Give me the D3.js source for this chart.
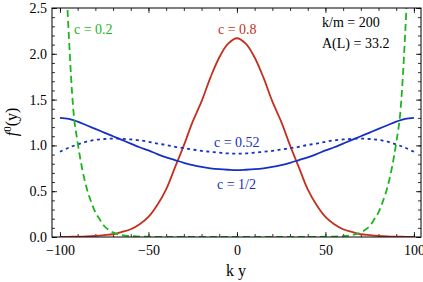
<!DOCTYPE html>
<html>
<head>
<meta charset="utf-8">
<script src="https://cdn.jsdelivr.net/npm/d3@7"></script>
<style>
    body { margin: 0; background: #fff; }
</style>
</head>
<body>
<div id="chart"></div>
<script>
const serif = "Liberation Serif, DejaVu Serif, serif";

// grid for the smooth curves (k y)
const kyGrid = [-100, -95, -90, -85, -80, -75, -70, -65, -60, -55, -50, -45, -40, -35, -30, -25, -20, -15, -10, -5,
    0, 5, 10, 15, 20, 25, 30, 35, 40, 45, 50, 55, 60, 65, 70, 75, 80, 85, 90, 95, 100];

// c = 0.8 (red)
const red08 = [0.001, 0.002, 0.004, 0.007, 0.012, 0.02, 0.03, 0.055, 0.085, 0.14, 0.22, 0.35, 0.52, 0.76, 1.00, 1.26, 1.48, 1.74, 1.96, 2.11,
    2.17, 2.11, 1.96, 1.74, 1.48, 1.26, 1.00, 0.76, 0.52, 0.35, 0.22, 0.14, 0.085, 0.055, 0.03, 0.02, 0.012, 0.007, 0.004, 0.002, 0.001];

// c = 1/2 (blue solid)
const blueHalf = [1.30, 1.29, 1.26, 1.22, 1.18, 1.14, 1.10, 1.06, 1.02, 0.98, 0.945, 0.905, 0.87, 0.84, 0.81, 0.785, 0.765, 0.75, 0.74, 0.734,
    0.73, 0.734, 0.74, 0.75, 0.765, 0.785, 0.81, 0.84, 0.87, 0.905, 0.945, 0.98, 1.02, 1.06, 1.10, 1.14, 1.18, 1.22, 1.26, 1.29, 1.30];

// c = 0.52 (blue dotted)
const blue052 = [0.93, 0.975, 1.01, 1.04, 1.06, 1.07, 1.075, 1.072, 1.065, 1.055, 1.04, 1.02, 1.005, 0.985, 0.97, 0.955, 0.94, 0.93, 0.92, 0.912,
    0.91, 0.912, 0.92, 0.93, 0.94, 0.955, 0.97, 0.985, 1.005, 1.02, 1.04, 1.055, 1.065, 1.072, 1.075, 1.07, 1.06, 1.04, 1.01, 0.975, 0.93];

// c = 0.2 (green dashed), finer near the walls
const kyGreen = [-100, -97.5, -95, -92.5, -90, -87.5, -85, -82.5, -80, -77.5, -75, -72.5, -70, -65, -60, -50, -25,
    0, 25, 50, 60, 65, 70, 72.5, 75, 77.5, 80, 82.5, 85, 87.5, 90, 92.5, 95, 97.5, 100];
const green02 = [5.0, 3.3, 2.2, 1.4, 1.03, 0.75, 0.54, 0.39, 0.27, 0.19, 0.12, 0.08, 0.05, 0.02, 0.01, 0.003, 0,
    0, 0, 0.003, 0.01, 0.02, 0.05, 0.08, 0.12, 0.19, 0.27, 0.39, 0.54, 0.75, 1.03, 1.4, 2.2, 3.3, 5.0];

const xMajor = [-100, -50, 0, 50, 100];
const xMinor = d3.range(-100, 101, 10);
const yMajor = [0, 0.5, 1.0, 1.5, 2.0, 2.5];
const yMinor = d3.range(0, 2.51, 0.1);

const width = 423, height = 282;
const margin = {top: 8, right: 2, bottom: 45, left: 52};
const innerW = width - margin.left - margin.right;
const innerH = height - margin.top - margin.bottom;

const svg = d3.select("#chart").append("svg")
    .attr("width", width)
    .attr("height", height)
    .style("font-family", serif);

const g = svg.append("g")
    .attr("transform", `translate(${margin.left},${margin.top})`);

const x = d3.scaleLinear().domain([-104.5, 104]).range([0, innerW]);
const y = d3.scaleLinear().domain([0, 2.5]).range([innerH, 0]);

g.append("clipPath").attr("id", "plotClip")
    .append("rect").attr("width", innerW).attr("height", innerH);

// axes, ticks pointing inward
function styleAxis(sel) {
    sel.attr("font-family", null);
    sel.select(".domain").remove();
    sel.selectAll("line").attr("stroke", "#000").attr("stroke-width", 0.8);
    sel.selectAll("text").attr("font-size", 14).attr("fill", "#000").style("font-family", serif);
}

g.append("g").attr("transform", `translate(0,${innerH})`)
    .call(d3.axisBottom(x).tickValues(xMinor).tickSize(-3).tickFormat(""))
    .call(styleAxis);
g.append("g").attr("transform", `translate(0,${innerH})`)
    .call(d3.axisBottom(x).tickValues(xMajor).tickSize(-5).tickPadding(8).tickFormat(d3.format("d")))
    .call(styleAxis);
g.append("g")
    .call(d3.axisTop(x).tickValues(xMinor).tickSize(-3).tickFormat(""))
    .call(styleAxis);
g.append("g")
    .call(d3.axisTop(x).tickValues(xMajor).tickSize(-5).tickFormat(""))
    .call(styleAxis);

g.append("g")
    .call(d3.axisLeft(y).tickValues(yMinor).tickSize(-3).tickFormat(""))
    .call(styleAxis);
g.append("g")
    .call(d3.axisLeft(y).tickValues(yMajor).tickSize(-5).tickPadding(5).tickFormat(d3.format(".1f")))
    .call(styleAxis);
g.append("g").attr("transform", `translate(${innerW},0)`)
    .call(d3.axisRight(y).tickValues(yMinor).tickSize(-3).tickFormat(""))
    .call(styleAxis);
g.append("g").attr("transform", `translate(${innerW},0)`)
    .call(d3.axisRight(y).tickValues(yMajor).tickSize(-5).tickFormat(""))
    .call(styleAxis);

// curves
const smooth = d3.line()
    .x(d => x(d[0]))
    .y(d => y(d[1]))
    .curve(d3.curveCatmullRom.alpha(0.5));
const steep = d3.line()
    .x(d => x(d[0]))
    .y(d => y(d[1]))
    .curve(d3.curveMonotoneX);

const curves = [
    {ky: kyGrid, v: red08, color: "#c3301f", dash: null, gen: smooth},
    {ky: kyGrid, v: blueHalf, color: "#1530c4", dash: null, gen: smooth},
    {ky: kyGrid, v: blue052, color: "#1530c4", dash: "3,3.5", gen: smooth},
    {ky: kyGreen, v: green02, color: "#1db41d", dash: "7,4", gen: steep}
];

const plot = g.append("g").attr("clip-path", "url(#plotClip)");
curves.forEach(c => {
    plot.append("path")
        .datum(c.ky.map((k, i) => [k, c.v[i]]))
        .attr("fill", "none")
        .attr("stroke", c.color)
        .attr("stroke-width", 1.8)
        .attr("stroke-dasharray", c.dash)
        .attr("d", c.gen);
});

// frame
g.append("rect")
    .attr("width", innerW).attr("height", innerH)
    .attr("fill", "none").attr("stroke", "#000").attr("stroke-width", 1);

// labels in the plot
const labels = [
    {t: "c = 0.2", x: 74, y: 33.5, color: "#1db41d"},
    {t: "c = 0.8", x: 218, y: 33.5, color: "#c3301f"},
    {t: "c = 0.52", x: 214, y: 147, color: "#1530c4"},
    {t: "c = 1/2", x: 217, y: 188.5, color: "#1530c4"},
    {t: "k/m = 200", x: 322, y: 27, color: "#000"},
    {t: "A(L) = 33.2", x: 322, y: 47.5, color: "#000"}
];
svg.selectAll(".lbl").data(labels).enter().append("text")
    .attr("class", "lbl")
    .attr("x", d => d.x).attr("y", d => d.y)
    .attr("font-size", 14)
    .style("font-family", serif)
    .attr("fill", d => d.color)
    .text(d => d.t);

// axis titles
svg.append("text")
    .attr("x", margin.left + x(0) - 1).attr("y", 276)
    .attr("text-anchor", "middle")
    .attr("font-size", 16)
    .style("font-family", serif)
    .text("k y");

const yt = svg.append("text")
    .attr("transform", "translate(17,122) rotate(-90)")
    .attr("text-anchor", "middle")
    .style("font-family", serif)
    .attr("font-size", 16);
yt.append("tspan").attr("font-style", "italic").text("f");
yt.append("tspan").attr("font-size", 11).attr("dy", -6).text("0");
yt.append("tspan").attr("dy", 6).text("(y)");
</script>
</body>
</html>
